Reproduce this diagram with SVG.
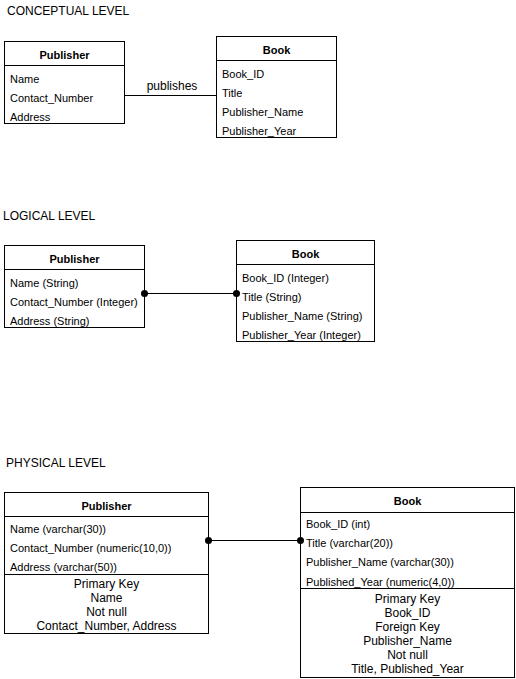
<svg xmlns="http://www.w3.org/2000/svg" width="516" height="679" viewBox="0 0 516 679">
<style>
text{font-family:"Liberation Sans",Arial,sans-serif;fill:#000}
.t{font-size:12px}
.h{font-size:11px;font-weight:bold;text-anchor:middle}
.f{font-size:11px}
.c{font-size:12px;text-anchor:middle}
.box{fill:#fff;stroke:#000;stroke-width:1}
.ln{stroke:#000;stroke-width:1;fill:none}
</style>
<defs>
<marker id="dot" markerWidth="10" markerHeight="10" refX="5" refY="5" markerUnits="userSpaceOnUse" overflow="visible">
<circle cx="5" cy="5" r="3.5" fill="#000"/>
</marker>
</defs>
<rect width="516" height="679" fill="#fff"/>
<text class="t" x="7" y="15">CONCEPTUAL LEVEL</text>
<text class="t" x="3" y="220">LOGICAL LEVEL</text>
<text class="t" x="6" y="467">PHYSICAL LEVEL</text>

<g id="c-publisher">
<rect class="box" x="4.5" y="41.5" width="120" height="82"/>
<line class="ln" x1="4.5" y1="65.5" x2="124.5" y2="65.5"/>
<text class="h" x="64.5" y="59">Publisher</text>
<text class="f" x="10" y="83">Name</text>
<text class="f" x="10" y="102">Contact_Number</text>
<text class="f" x="10" y="121">Address</text>
</g>

<g id="c-book">
<rect class="box" x="216.5" y="36.5" width="120" height="101"/>
<line class="ln" x1="216.5" y1="60.5" x2="336.5" y2="60.5"/>
<text class="h" x="276.5" y="54">Book</text>
<text class="f" x="222" y="78">Book_ID</text>
<text class="f" x="222" y="97">Title</text>
<text class="f" x="222" y="116">Publisher_Name</text>
<text class="f" x="222" y="135">Publisher_Year</text>
</g>

<g id="l-publisher">
<rect class="box" x="4.5" y="245.5" width="140" height="82"/>
<line class="ln" x1="4.5" y1="269.5" x2="144.5" y2="269.5"/>
<text class="h" x="74.5" y="263">Publisher</text>
<text class="f" x="10" y="287">Name (String)</text>
<text class="f" x="10" y="306">Contact_Number (Integer)</text>
<text class="f" x="10" y="325">Address (String)</text>
</g>

<g id="l-book">
<rect class="box" x="236.5" y="240.5" width="138" height="101"/>
<line class="ln" x1="236.5" y1="264.5" x2="374.5" y2="264.5"/>
<text class="h" x="305.5" y="258">Book</text>
<text class="f" x="242" y="282">Book_ID (Integer)</text>
<text class="f" x="242" y="301">Title (String)</text>
<text class="f" x="242" y="320">Publisher_Name (String)</text>
<text class="f" x="242" y="339">Publisher_Year (Integer)</text>
</g>

<g id="p-publisher">
<rect class="box" x="4.5" y="492.5" width="204" height="141"/>
<line class="ln" x1="4.5" y1="516.5" x2="208.5" y2="516.5"/>
<line class="ln" x1="4.5" y1="574.5" x2="208.5" y2="574.5"/>
<text class="h" x="106.5" y="510">Publisher</text>
<text class="f" x="10" y="533">Name (varchar(30))</text>
<text class="f" x="10" y="552">Contact_Number (numeric(10,0))</text>
<text class="f" x="10" y="571">Address (varchar(50))</text>
<text class="c" x="106.5" y="588">Primary Key</text>
<text class="c" x="106.5" y="602">Name</text>
<text class="c" x="106.5" y="616">Not null</text>
<text class="c" x="106.5" y="630">Contact_Number, Address</text>
</g>

<g id="p-book">
<rect class="box" x="300.5" y="487.5" width="214" height="190"/>
<line class="ln" x1="300.5" y1="512.5" x2="514.5" y2="512.5"/>
<line class="ln" x1="300.5" y1="588.5" x2="514.5" y2="588.5"/>
<text class="h" x="407.5" y="505">Book</text>
<text class="f" x="306" y="528">Book_ID (int)</text>
<text class="f" x="306" y="547">Title (varchar(20))</text>
<text class="f" x="306" y="566">Publisher_Name (varchar(30))</text>
<text class="f" x="306" y="586">Published_Year (numeric(4,0))</text>
<text class="c" x="407.5" y="603">Primary Key</text>
<text class="c" x="407.5" y="617">Book_ID</text>
<text class="c" x="407.5" y="631">Foreign Key</text>
<text class="c" x="407.5" y="645">Publisher_Name</text>
<text class="c" x="407.5" y="659">Not null</text>
<text class="c" x="407.5" y="673">Title, Published_Year</text>
</g>

<g id="connectors">
<line class="ln" x1="124.5" y1="95.5" x2="216.5" y2="95.5"/>
<text class="c" x="172" y="90">publishes</text>
<line class="ln" x1="144.5" y1="293.5" x2="236.5" y2="293.5" marker-start="url(#dot)" marker-end="url(#dot)"/>
<line class="ln" x1="208.5" y1="540.5" x2="300.5" y2="540.5" marker-start="url(#dot)" marker-end="url(#dot)"/>
</g>
</svg>
